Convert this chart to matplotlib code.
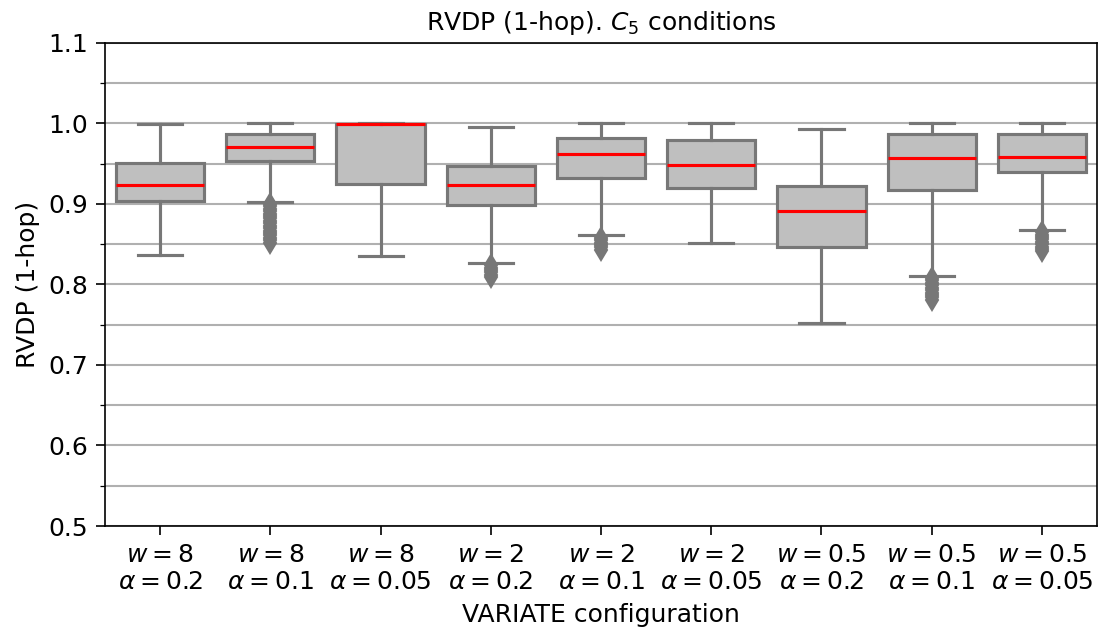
import matplotlib
matplotlib.use("Agg")
import matplotlib.pyplot as plt
import numpy as np

labels = [r"$w = 8$" "\n" r"$\alpha = 0.2$", r"$w = 8$" "\n" r"$\alpha = 0.1$",
          r"$w = 8$" "\n" r"$\alpha = 0.05$", r"$w = 2$" "\n" r"$\alpha = 0.2$",
          r"$w = 2$" "\n" r"$\alpha = 0.1$", r"$w = 2$" "\n" r"$\alpha = 0.05$",
          r"$w = 0.5$" "\n" r"$\alpha = 0.2$", r"$w = 0.5$" "\n" r"$\alpha = 0.1$",
          r"$w = 0.5$" "\n" r"$\alpha = 0.05$"]
whislo = [0.836, 0.903, 0.835, 0.827, 0.862, 0.852, 0.752, 0.811, 0.868]
q1 = [0.904, 0.953, 0.925, 0.899, 0.932, 0.920, 0.846, 0.917, 0.940]
med = [0.924, 0.971, 0.999, 0.924, 0.962, 0.948, 0.891, 0.957, 0.958]
q3 = [0.951, 0.987, 0.999, 0.947, 0.982, 0.980, 0.922, 0.987, 0.987]
whishi = [0.999, 1.000, 1.000, 0.996, 1.000, 1.000, 0.993, 1.000, 1.000]
fliers = [
    [],
    [0.900, 0.897, 0.894, 0.891, 0.888, 0.885, 0.882, 0.879, 0.876, 0.873, 0.870, 0.867, 0.864, 0.861, 0.858, 0.855, 0.852],
    [],
    [0.824, 0.821, 0.818, 0.815, 0.812, 0.809],
    [0.858, 0.855, 0.852, 0.849, 0.846, 0.843],
    [],
    [],
    [0.808, 0.805, 0.802, 0.799, 0.796, 0.793, 0.790, 0.787, 0.784, 0.781],
    [0.865, 0.862, 0.859, 0.856, 0.853, 0.850, 0.847, 0.844, 0.841],
]

stats = []
for i in range(len(labels)):
    stats.append(dict(whislo=whislo[i], q1=q1[i], med=med[i], q3=q3[i],
                      whishi=whishi[i], fliers=fliers[i], label=labels[i]))

plt.rcParams['font.size'] = 12
fig = plt.figure(figsize=(1102/150, 641/150), dpi=150)
ax = fig.add_axes([0.0953, 0.1794, 0.9002, 0.7536])

gray = '#777777'
ax.bxp(stats, positions=np.arange(len(labels)), widths=0.8, patch_artist=True,
       capwidths=0.4,
       boxprops=dict(facecolor='#bfbfbf', edgecolor=gray, linewidth=1.5),
       whiskerprops=dict(color=gray, linewidth=1.5),
       capprops=dict(color=gray, linewidth=1.5),
       medianprops=dict(color='red', linewidth=1.5),
       flierprops=dict(marker='d', markerfacecolor=gray, markeredgecolor=gray,
                       markersize=7, linestyle='none'),
       zorder=3)

ax.set_xlim(-0.5, len(labels) - 0.5)
ax.set_ylim(0.5, 1.1)
ax.set_yticks(np.arange(0.5, 1.1001, 0.1))
ax.set_yticks(np.arange(0.55, 1.1, 0.1), minor=True)
ax.yaxis.grid(True, which='both', color='#b0b0b0', linewidth=1.0, zorder=0)
ax.set_axisbelow(True)
ax.tick_params(axis='both', which='major', length=4.5, labelsize=12)
ax.tick_params(axis='y', which='minor', length=2.5)
ax.set_xticks(np.arange(len(labels)))
ax.set_xticklabels(labels)
ax.set_title(r"RVDP (1-hop). $C_5$ conditions", fontsize=12)
ax.set_xlabel("VARIATE configuration", fontsize=12)
ax.set_ylabel("RVDP (1-hop)", fontsize=12)

fig.savefig("out.png", dpi=150)
